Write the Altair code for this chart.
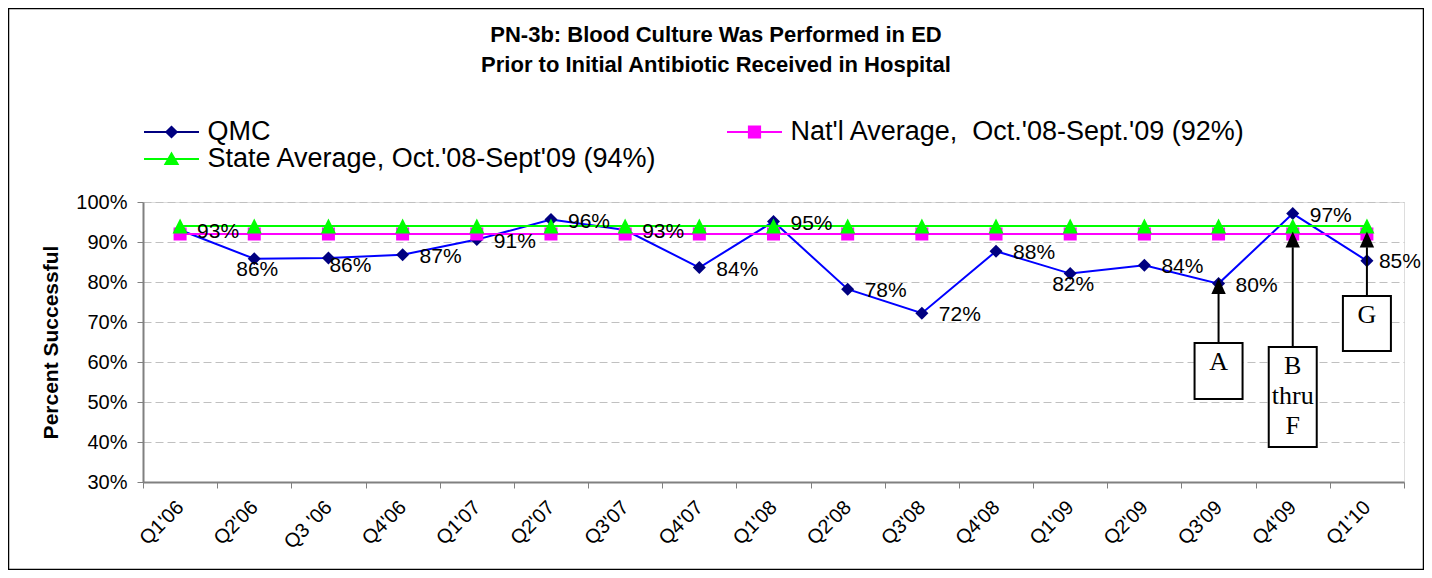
import altair as alt
import pandas as pd

# ---------------- data ----------------
quarters = ["Q1'06", "Q2'06", "Q3 '06", "Q4'06", "Q1'07", "Q2'07", "Q3'07", "Q4'07",
            "Q1'08", "Q2'08", "Q3'08", "Q4'08", "Q1'09", "Q2'09", "Q3'09", "Q4'09", "Q1'10"]
qmc = [93.0, 85.8, 86.0, 86.8, 90.6, 95.6, 93.0, 83.6, 95.1, 78.2, 72.2, 87.7,
       82.1, 84.2, 79.6, 97.1, 85.3]
qmc_labels = ["93%", "86%", "86%", "87%", "91%", "96%", "93%", "84%", "95%", "78%",
              "72%", "88%", "82%", "84%", "80%", "97%", "85%"]
# where each data label sits relative to its point:
# r = right, rn = right (close), b = below, br = below-right
label_side = ["r", "b", "br", "r", "r", "r", "r", "r", "r", "r", "r", "r", "b", "r", "r", "r", "rn"]
state_avg = 94.0
natl_avg = 92.0

S_QMC = "QMC"
S_NAT = "Nat'l Average,\u00a0 Oct.'08-Sept.'09 (92%)"
S_STATE = "State Average, Oct.'08-Sept'09 (94%)"
# legend entries fill column by column: QMC, State | Nat'l
series_names = [S_QMC, S_STATE, S_NAT]
series_colors = ["#000080", "#00FF00", "#FF00FF"]

y_ticks = [30, 40, 50, 60, 70, 80, 90, 100]

# annotation call-outs (box spans and arrow heads in percent units)
ann_quarter = ["Q3'09", "Q4'09", "Q1'10"]
ann_text = ["A", "B\nthru\nF", "G"]
ann_box_top = [64.75, 63.75, 76.5]
ann_box_bottom = [50.75, 38.75, 62.75]
ann_head = [79.0, 90.6, 90.6]
ann_shaft_end = [77.0, 88.7, 88.7]

# ---------------- tables ----------------
FONT = "Liberation Sans"
df_qmc = pd.DataFrame({"quarter": quarters, "value": qmc, "label": qmc_labels, "side": label_side})
df_nat = pd.DataFrame({"quarter": quarters, "value": [natl_avg] * len(quarters)})
df_state = pd.DataFrame({"quarter": quarters, "value": [state_avg] * len(quarters)})
df_ann = pd.DataFrame({"quarter": ann_quarter, "text": ann_text, "top": ann_box_top,
                       "bottom": ann_box_bottom, "head": ann_head, "shaft": ann_shaft_end})

xscale = alt.Scale(type="band", domain=quarters, paddingInner=0, paddingOuter=0)
x_axis = alt.Axis(title=None, tickBand="extent", labelAngle=315, labelAlign="right",
                  labelBaseline="middle", labelPadding=16, labelFontSize=20, labelFont=FONT,
                  labelColor="black", tickSize=6, tickColor="#808080", domainColor="#808080",
                  domainWidth=2, grid=False, labelOverlap=False)
X = alt.X("quarter:N", sort=quarters, scale=xscale, axis=x_axis)

y_axis = alt.Axis(values=y_ticks, labelExpr="datum.value + '%'", labelFontSize=20,
                  labelFont=FONT, labelColor="black", labelPadding=10, tickSize=6,
                  tickColor="#808080", domainColor="#808080", domainWidth=2,
                  grid=True, gridColor="#C0C0C0", gridDash=[8, 4], gridWidth=1,
                  title="Percent Successful", titleFont=FONT, titleFontSize=21,
                  titleFontWeight="bold", titleColor="black", titlePadding=14)
yscale = alt.Scale(domain=[30, 100], nice=False, zero=False)
Y = alt.Y("value:Q", scale=yscale, axis=y_axis)

# ---------------- layers ----------------
frame = alt.Chart(pd.DataFrame({"a": [0]})).mark_rect(
    fill="transparent", stroke="black", strokeWidth=1.5
).encode(x=alt.value(-134.5), x2=alt.value(1280.5), y=alt.value(-193.5), y2=alt.value(367.5))

qmc_line = alt.Chart(df_qmc).mark_line(color="#0000FF", strokeWidth=2).encode(x=X, y=Y)
qmc_pts = alt.Chart(df_qmc).mark_point(shape="diamond", filled=True, size=170,
                                       color="#000080", opacity=1).encode(x=X, y=Y)
nat_line = alt.Chart(df_nat).mark_line(color="#FF00FF", strokeWidth=2).encode(x=X, y=Y)
nat_pts = alt.Chart(df_nat).mark_point(shape="square", filled=True, size=169,
                                       color="#FF00FF", opacity=1).encode(x=X, y=Y)
state_line = alt.Chart(df_state).mark_line(color="#00FF00", strokeWidth=2).encode(x=X, y=Y)
state_pts = alt.Chart(df_state).mark_point(shape="M0,-1L1,1L-1,1Z", filled=True, size=225,
                                           color="#00FF00", opacity=1).encode(x=X, y=Y)

lab_common = dict(font=FONT, fontSize=21, color="black")
lab_r = alt.Chart(df_qmc).transform_filter(alt.datum.side == "r").mark_text(
    align="left", baseline="middle", dx=17, dy=2, **lab_common).encode(x=X, y=Y, text="label:N")
lab_rn = alt.Chart(df_qmc).transform_filter(alt.datum.side == "rn").mark_text(
    align="left", baseline="middle", dx=12, dy=1, **lab_common).encode(x=X, y=Y, text="label:N")
lab_b = alt.Chart(df_qmc).transform_filter(alt.datum.side == "b").mark_text(
    align="center", baseline="middle", dx=3, dy=11, **lab_common).encode(x=X, y=Y, text="label:N")
lab_br = alt.Chart(df_qmc).transform_filter(alt.datum.side == "br").mark_text(
    align="left", baseline="middle", dx=1, dy=8, **lab_common).encode(x=X, y=Y, text="label:N")

boxes = alt.Chart(df_ann).mark_bar(size=48, fill="white", stroke="black", strokeWidth=2).encode(
    x=X, y=alt.Y("top:Q", scale=yscale, axis=y_axis), y2="bottom:Q")
shafts = alt.Chart(df_ann).mark_rule(color="black", strokeWidth=2).encode(
    x=X, y=alt.Y("top:Q", scale=yscale, axis=y_axis), y2="shaft:Q")
heads = alt.Chart(df_ann).mark_point(shape="M0,-1L0.9,1L-0.9,1Z", filled=True, size=256,
                                     color="black", opacity=1).encode(
    x=X, y=alt.Y("head:Q", scale=yscale, axis=y_axis))
box_text = alt.Chart(df_ann).mark_text(font="Liberation Serif", fontSize=26, lineBreak="\n",
                                       lineHeight=30, baseline="top", dy=6, color="black").encode(
    x=X, y=alt.Y("top:Q", scale=yscale, axis=y_axis), text="text:N")

# legend (line + marker symbols)
LINE = "M-4.58,-0.17L4.58,-0.17L4.58,0.17L-4.58,0.17Z "
sym_qmc = LINE + "M0,-1.1L1.1,0L0,1.1L-1.1,0Z"
sym_nat = LINE + "M-1.1,-1.1L1.1,-1.1L1.1,1.1L-1.1,1.1Z"
sym_state = LINE + "M0,-1.25L1.3,1.0L-1.3,1.0Z"
legend = alt.Legend(title=None, orient="none", legendX=-13, legendY=-82, columns=2,
                    columnPadding=55, rowPadding=0, clipHeight=24, symbolSize=144,
                    symbolOffset=28, labelOffset=22.5, labelFontSize=27, labelFont=FONT,
                    labelColor="black", labelLimit=2000, padding=0, symbolStrokeWidth=0)
legend_layer = alt.Chart(pd.DataFrame({"series": pd.Series([], dtype=str)})).mark_point(
    filled=True, opacity=1).encode(
    color=alt.Color("series:N", scale=alt.Scale(domain=series_names, range=series_colors),
                    legend=legend),
    shape=alt.Shape("series:N", scale=alt.Scale(domain=series_names,
                                                range=[sym_qmc, sym_state, sym_nat]),
                    legend=legend),
)

chart = alt.layer(
    frame, qmc_line, qmc_pts, nat_line, nat_pts, state_line, state_pts,
    lab_r, lab_rn, lab_b, lab_br, shafts, heads, boxes, box_text, legend_layer
).properties(
    width=1261, height=280,
    autosize=alt.AutoSizeParams(type="none"),
    padding={"left": 135, "top": 194, "right": 20, "bottom": 88},
    title=alt.TitleParams(
        text=["PN-3b: Blood Culture Was Performed in ED",
              "Prior to Initial Antibiotic Received in Hospital"],
        font=FONT, fontSize=22, fontWeight="bold", color="black", anchor="middle",
        dx=-57.5, offset=-69, lineHeight=30),
).configure_view(stroke=None).configure(background="white")

chart.save("out.html", embed_options={"renderer": "svg", "actions": False})
